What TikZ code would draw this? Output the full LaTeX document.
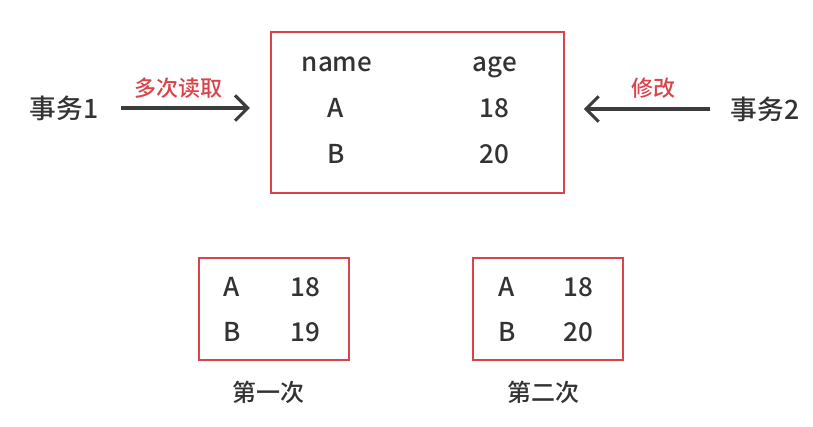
\documentclass[tikz,border=0pt]{standalone}
\usepackage{fontspec}
\setmainfont{Noto Sans CJK SC Medium}
\usepackage{tikz}
\usetikzlibrary{arrows.meta,calc,positioning}
\usepackage{xcolor}
\definecolor{boxred}{HTML}{D9434A}
\definecolor{ink}{HTML}{333333}
\definecolor{arrowgray}{HTML}{3C3C3C}

\tikzset{
    txt/.style={inner sep=0pt, text=ink, font=\fontsize{20}{20}\selectfont},
    cell/.style={inner sep=0pt, text=ink, text height=14pt, text depth=0pt, font=\fontsize{19.5}{20}\selectfont},
    lbl/.style={inner sep=0pt, text=boxred, font=\fontsize{16.5}{17}\selectfont},
    caption/.style={inner sep=0pt, text=ink, font=\fontsize{18}{18}\selectfont},
    tablebox/.style={draw=boxred, line width=1.5pt, inner sep=0pt},
    arr/.style={draw=arrowgray, line width=2.3pt, -{Straight Barb[length=9.5pt,width=19pt,line width=2.3pt]}},
}

\begin{document}
\begin{tikzpicture}[x=0.75pt,y=-0.75pt]
    \useasboundingbox (0,0) rectangle (813,426);
    % main table
    \node[tablebox, minimum width=220pt, minimum height=121pt] (main) at (417.5,112.5) {};
    \node[cell] (hname) at (337,62) {name};
    \node[cell] (hage) at (495,62) {age};
    \node[cell] (ra) at (336,108) {A};
    \node[cell] (ra18) at (494,108) {18};
    \node[cell] (rb) at (336,154) {B};
    \node[cell] (rb20) at (494,154) {20};
    % transactions
    \node[txt] (t1) at (64,108) {事务1};
    \node[txt] (t2) at (765,109) {事务2};
    \draw[arr, shorten <=17pt, shorten >=15pt] (t1.east) -- (t1.east -| main.west);
    \draw[arr, shorten <=15pt, shorten >=14pt] (t2.west) -- (t2.west -| main.east);
    \node[lbl] (read) at (178,88) {多次读取};
    \node[lbl] (modify) at (653,88) {修改};
    % first read
    \node[tablebox, line width=1.2pt, minimum width=112.5pt, minimum height=76.5pt] (first) at (274,309) {};
    \node[cell] (fa) at (232,287) {A};
    \node[cell] (fa18) at (305,287) {18};
    \node[cell] (fb) at (232,332) {B};
    \node[cell] (fb19) at (305,332) {19};
    \node[caption] (firstlbl) at (268,392) {第一次};
    % second read
    \node[tablebox, line width=1.2pt, minimum width=112.5pt, minimum height=76.5pt] (second) at (548,309) {};
    \node[cell] (sa) at (507,287) {A};
    \node[cell] (sa18) at (578,287) {18};
    \node[cell] (sb) at (507,332) {B};
    \node[cell] (sb20) at (578,332) {20};
    \node[caption] (secondlbl) at (543,392) {第二次};
\end{tikzpicture}
\end{document}
